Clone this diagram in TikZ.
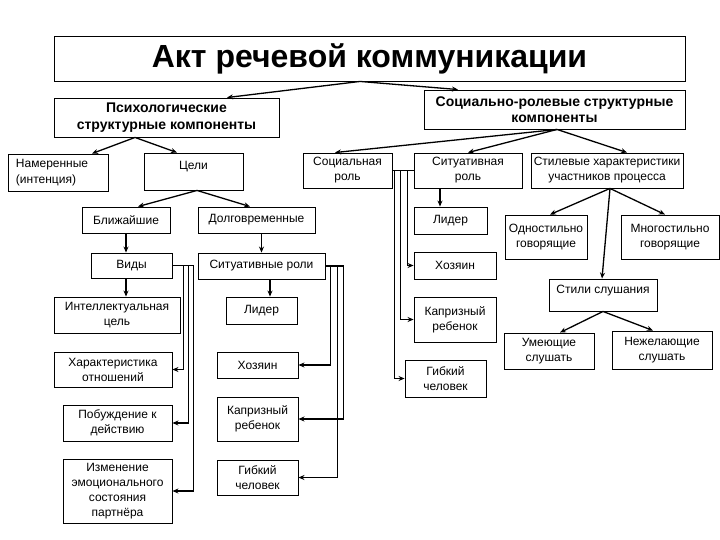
\documentclass[tikz,border=0pt]{standalone}
\usepackage{fontspec}
\setmainfont{Liberation Sans}
\usetikzlibrary{arrows.meta}
\begin{document}
\begin{tikzpicture}[x=1pt,y=-1pt,
  box/.style={draw=black, line width=0.9pt, inner sep=0pt, align=center, font=\fontsize{12}{15}\selectfont},
  head/.style={box, font=\fontsize{14}{16.5}\selectfont\bfseries},
  conn/.style={line width=1.3pt, -{Stealth[length=6pt,width=5pt]}},
  plain/.style={line width=1.3pt}]
\fill[white] (0,0) rectangle (720,540);
\useasboundingbox (0,0) rectangle (720,540);

% top level
\node[box, minimum width=631pt, minimum height=45pt, font=\fontsize{32}{36}\selectfont\bfseries] (title) at (369.5,58.5) {Акт речевой коммуникации};
\node[head, minimum width=225pt, minimum height=39pt] (psych) at (166.5,117.5) {Психологические\\структурные компоненты};
\node[head, minimum width=261pt, minimum height=39pt] (socr) at (554.5,109.5) {Социально-ролевые структурные\\компоненты};

% second level
\node[box, minimum width=100pt, minimum height=37pt, text width=84pt, align=left, font=\fontsize{12}{16}\selectfont] (nam) at (58,172.5) {Намеренные\\(интенция)};
\node[box, minimum width=99pt, minimum height=37pt, text height=9pt, text depth=12pt] (celi) at (193.5,171.5) {Цели};
\node[box, minimum width=89pt, minimum height=35pt] (socrol) at (347.5,170.5) {Социальная\\роль};
\node[box, minimum width=108pt, minimum height=35pt] (sitrol) at (468,170.5) {Ситуативная\\роль};
\node[box, minimum width=152pt, minimum height=35pt] (stil) at (607,170.5) {Стилевые характеристики\\участников процесса};

% left branch
\node[box, minimum width=88pt, minimum height=26pt] (blizh) at (126,220) {Ближайшие};
\node[box, minimum width=117pt, minimum height=26pt] (dolg) at (256.5,220) {Долговременные};
\node[box, minimum width=81pt, minimum height=25pt] (vidy) at (131.5,265.5) {Виды};
\node[box, minimum width=127pt, minimum height=26pt] (sitroli) at (261.5,266) {Ситуативные роли};
\node[box, minimum width=126pt, minimum height=36pt] (intel) at (117,315) {Интеллектуальная\\цель};
\node[box, minimum width=118pt, minimum height=35pt] (har) at (113,369.5) {Характеристика\\отношений};
\node[box, minimum width=109pt, minimum height=36pt] (pob) at (117.5,423) {Побуждение к\\действию};
\node[box, minimum width=109pt, minimum height=64pt] (izm) at (117.5,491) {Изменение\\эмоционального\\состояния\\партнёра};

% middle column
\node[box, minimum width=71pt, minimum height=27pt] (lider1) at (261.5,310.5) {Лидер};
\node[box, minimum width=81pt, minimum height=26pt] (hoz1) at (257.5,365) {Хозяин};
\node[box, minimum width=81pt, minimum height=44pt] (kap1) at (257.5,419) {Капризный\\ребенок};
\node[box, minimum width=81pt, minimum height=35pt] (gib1) at (257.5,477.5) {Гибкий\\человек};

% right column
\node[box, minimum width=73pt, minimum height=27pt] (lider2) at (450.5,220.5) {Лидер};
\node[box, minimum width=82pt, minimum height=27pt] (hoz2) at (455,265.5) {Хозяин};
\node[box, minimum width=82pt, minimum height=45pt] (kap2) at (455,319.5) {Капризный\\ребенок};
\node[box, minimum width=81pt, minimum height=37pt] (gib2) at (445.5,378.5) {Гибкий\\человек};

% styles
\node[box, minimum width=82pt, minimum height=44pt] (odno) at (546,237) {Одностильно\\говорящие};
\node[box, minimum width=98pt, minimum height=44pt] (mnogo) at (670,237) {Многостильно\\говорящие};
\node[box, minimum width=108pt, minimum height=32pt, text height=9pt, text depth=12pt] (slush) at (603,295) {Стили слушания};
\node[box, minimum width=90pt, minimum height=36pt] (umeyu) at (549,351) {Умеющие\\слушать};
\node[box, minimum width=100pt, minimum height=38pt] (nezh) at (662,350) {Нежелающие\\слушать};

% connectors
\coordinate (t0) at ([xshift=-9.5pt]title.south);
\draw[conn] (t0) -- ([xshift=60.5pt]psych.north);
\draw[conn] (t0) -- ([xshift=-96.5pt]socr.north);

\coordinate (p0) at ([xshift=-31.5pt]psych.south);
\draw[conn] (p0) -- ([xshift=34pt]nam.north);
\draw[conn] (p0) -- ([xshift=-16.5pt]celi.north);

\coordinate (s0) at ([xshift=2.5pt]socr.south);
\draw[conn] (s0) -- ([xshift=-12.5pt]socrol.north);
\draw[conn] (s0) -- (sitrol.north);
\draw[conn] (s0) -- ([xshift=20pt]stil.north);

\coordinate (c0) at ([xshift=3.5pt]celi.south);
\draw[conn] (c0) -- ([xshift=12pt]blizh.north);
\draw[conn] (c0) -- ([xshift=-6.5pt]dolg.north);

\draw[conn] (blizh.south) -- (blizh.south |- vidy.north);
\draw[conn] (vidy.south -| blizh.south) -- (intel.north -| blizh.south);
\draw[conn] (sitroli.north |- dolg.south) -- (sitroli.north);
\coordinate (r1) at ([xshift=8.5pt]sitroli.south);
\draw[conn] (r1) -- (r1 |- lider1.north);
\coordinate (r2) at ([xshift=-28pt]sitrol.south);
\draw[conn] (r2) -- (r2 |- lider2.north);

\draw[conn] (vidy.east) -- ++(11,0) |- (har.east);
\draw[conn] (vidy.east) -- ++(16,0) |- (pob.east);
\draw[conn] (vidy.east) -- ++(21,0) |- (izm.east);

\draw[conn] (sitroli.east) -- ++(5,0) |- (hoz1.east);
\draw[conn] (sitroli.east) -- ++(18,0) |- (kap1.east);
\draw[conn] (sitroli.east) -- ++(12,0) |- (gib1.east);

\draw[plain] (socrol.east) -- (sitrol.west);
\draw[conn] (socrol.east) -- ++(15,0) |- (hoz2.west);
\draw[conn] (socrol.east) -- ++(8,0) |- (kap2.west);
\draw[conn] (socrol.east) -- ++(2,0) |- (gib2.west);

\coordinate (st0) at ([xshift=3pt]stil.south);
\draw[conn] (st0) -- ([xshift=4pt]odno.north);
\draw[conn] (st0) -- ([xshift=-5pt]mnogo.north);
\draw[conn] (st0) -- ([xshift=-1pt]slush.north);

\draw[conn] (slush.south) -- ([xshift=11pt]umeyu.north);
\draw[conn] (slush.south) -- ([xshift=-9pt]nezh.north);
\end{tikzpicture}
\end{document}
